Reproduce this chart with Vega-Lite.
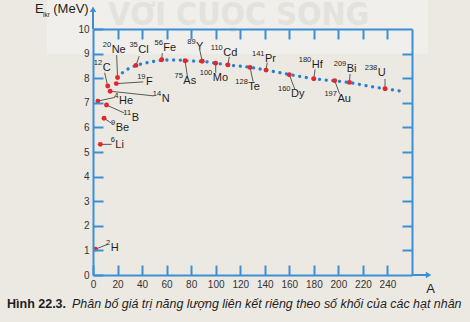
{
  "$schema": "https://vega.github.io/schema/vega-lite/v6.json",
  "width": 319,
  "height": 246,
  "autosize": {"type": "none"},
  "padding": {"left": 93, "top": 29, "right": 58, "bottom": 47},
  "background": "#ece9e3",
  "config": {
    "view": {"stroke": null},
    "font": "Liberation Sans",
    "axis": {
      "grid": false,
      "domainColor": "#3d8fd3",
      "domainWidth": 2,
      "tickColor": "#3d8fd3",
      "tickWidth": 2,
      "tickSize": -10,
      "labelPadding": 14,
      "labelFont": "Liberation Sans",
      "labelFontSize": 10,
      "labelColor": "#333333",
      "labelFlush": false
    }
  },
  "datasets": {
    "one": [{}],
    "nuclei": [
      {"sym": "H", "mass": "2", "A": 2, "E": 1.05, "tx": 14.4, "ty": 1.11, "lx": 12.0, "ly": 1.25},
      {"sym": "Li", "mass": "6", "A": 6, "E": 5.31, "tx": 18.2, "ty": 5.30, "lx": 15.2, "ly": 5.31},
      {"sym": "Be", "mass": "9", "A": 9, "E": 6.37, "tx": 18.5, "ty": 5.98, "lx": 16.1, "ly": 6.14},
      {"sym": "B", "mass": "11", "A": 11, "E": 6.91, "tx": 31.5, "ty": 6.39, "lx": 25.3, "ly": 6.59},
      {"sym": "He", "mass": "4", "A": 4, "E": 7.07, "tx": 21.2, "ty": 7.08, "lx": 17.9, "ly": 7.22},
      {"sym": "N", "mass": "14", "A": 14, "E": 7.47, "tx": 56.0, "ty": 7.15, "lx": 49.7, "ly": 7.28},
      {"sym": "C", "mass": "12", "A": 12, "E": 7.68, "tx": 7.9, "ty": 8.43, "lx": 9.5, "ly": 8.22},
      {"sym": "F", "mass": "19", "A": 19, "E": 7.78, "tx": 43.2, "ty": 7.83, "lx": 41.0, "ly": 7.85},
      {"sym": "Ne", "mass": "20", "A": 20, "E": 8.03, "tx": 15.2, "ty": 9.15, "lx": 19.3, "ly": 8.94},
      {"sym": "Cl", "mass": "35", "A": 35, "E": 8.52, "tx": 36.9, "ty": 9.13, "lx": 37.7, "ly": 8.90},
      {"sym": "Fe", "mass": "56", "A": 56, "E": 8.75, "tx": 57.3, "ty": 9.24, "lx": 56.5, "ly": 9.02},
      {"sym": "As", "mass": "75", "A": 75, "E": 8.71, "tx": 73.6, "ty": 7.87, "lx": 77.0, "ly": 8.06},
      {"sym": "Y", "mass": "89", "A": 89, "E": 8.69, "tx": 84.0, "ty": 9.28, "lx": 87.0, "ly": 9.15},
      {"sym": "Mo", "mass": "100", "A": 100, "E": 8.61, "tx": 97.6, "ty": 8.00, "lx": 100.0, "ly": 8.22},
      {"sym": "Cd", "mass": "110", "A": 110, "E": 8.54, "tx": 106.2, "ty": 9.04, "lx": 111.0, "ly": 8.87},
      {"sym": "Te", "mass": "128", "A": 128, "E": 8.44, "tx": 126.6, "ty": 7.66, "lx": 130.5, "ly": 7.86},
      {"sym": "Pr", "mass": "141", "A": 141, "E": 8.33, "tx": 140.2, "ty": 8.78, "lx": 142.0, "ly": 8.63},
      {"sym": "Dy", "mass": "160", "A": 160, "E": 8.14, "tx": 161.4, "ty": 7.36, "lx": 164.5, "ly": 7.55},
      {"sym": "Hf", "mass": "180", "A": 180, "E": 7.98, "tx": 178.3, "ty": 8.54, "lx": 181.0, "ly": 8.36},
      {"sym": "Au", "mass": "197", "A": 197, "E": 7.90, "tx": 199.2, "ty": 7.16, "lx": 201.0, "ly": 7.36},
      {"sym": "Bi", "mass": "209", "A": 209, "E": 7.83, "tx": 206.8, "ty": 8.37, "lx": 209.5, "ly": 8.17},
      {"sym": "U", "mass": "238", "A": 238, "E": 7.57, "tx": 232.1, "ty": 8.20, "lx": 238.0, "ly": 7.97}
    ],
    "curve": [
      {"A": 24, "E": 8.22}, {"A": 28, "E": 8.36}, {"A": 32, "E": 8.46}, {"A": 36, "E": 8.53},
      {"A": 44, "E": 8.63}, {"A": 52, "E": 8.70}, {"A": 58, "E": 8.74}, {"A": 68, "E": 8.74},
      {"A": 76, "E": 8.71}, {"A": 90, "E": 8.68}, {"A": 100, "E": 8.61}, {"A": 110, "E": 8.54},
      {"A": 128, "E": 8.44}, {"A": 141, "E": 8.33}, {"A": 160, "E": 8.15}, {"A": 180, "E": 7.98},
      {"A": 197, "E": 7.89}, {"A": 209, "E": 7.82}, {"A": 222, "E": 7.70}, {"A": 238, "E": 7.57},
      {"A": 252, "E": 7.47}
    ]
  },
  "resolve": {"axis": {"x": "independent", "y": "independent"}},
  "layer": [
    {
      "data": {"name": "one"},
      "mark": {"type": "rect", "color": "#f0efeb", "opacity": 1},
      "encoding": {
        "x": {"datum": -37.5, "scale": {"domain": [0, 260], "nice": false}, "axis": null},
        "x2": {"datum": 273},
        "y": {"datum": 11.3, "scale": {"domain": [0, 10], "nice": false}, "axis": null},
        "y2": {"datum": 8.98}
      }
    },
    {
      "data": {"name": "one"},
      "mark": {"type": "text", "text": "VỚI CUỘC SỐNG", "font": "DejaVu Sans Condensed", "fontWeight": "bold", "fontSize": 32, "color": "#e4e2dd", "align": "center", "baseline": "alphabetic"},
      "encoding": {
        "x": {"datum": 118.6, "axis": null},
        "y": {"datum": 10.16, "axis": null}
      }
    },
    {
      "data": {"name": "curve"},
      "mark": {"type": "line", "opacity": 0},
      "encoding": {
        "x": {"field": "A", "type": "quantitative", "scale": {"domain": [0, 260], "nice": false},
              "axis": {"orient": "top", "zindex": 1, "title": null, "labels": false, "values": [20, 40, 60, 80, 100, 120, 140, 160, 180, 200, 220, 240]}},
        "y": {"field": "E", "type": "quantitative", "scale": {"domain": [0, 10], "nice": false},
              "axis": {"orient": "right", "zindex": 1, "title": null, "labels": false, "values": [1, 2, 3, 4, 5, 6, 7, 8, 9]}}
      }
    },
    {
      "data": {"name": "curve"},
      "mark": {"type": "line", "color": "#2a7fd0", "strokeWidth": 3.3, "strokeCap": "round", "strokeDash": [0.1, 6.6], "interpolate": "monotone"},
      "encoding": {
        "x": {"field": "A", "type": "quantitative", "scale": {"domain": [0, 260], "nice": false},
              "axis": {"orient": "bottom", "title": "A", "titleX": 337, "titleY": 13, "titleAlign": "center", "titleBaseline": "middle", "titleAngle": 0, "titleFont": "Liberation Sans", "titleFontSize": 13, "titleFontWeight": "normal", "titleColor": "#1e1e1e", "values": [0, 20, 40, 60, 80, 100, 120, 140, 160, 180, 200, 220, 240]}},
        "y": {"field": "E", "type": "quantitative", "scale": {"domain": [0, 10], "nice": false},
              "axis": {"orient": "left", "zindex": 1, "title": null, "values": [0, 1, 2, 3, 4, 5, 6, 7, 8, 9, 10]}}
      }
    },
    {
      "data": {"name": "one"},
      "mark": {"type": "rule", "color": "#3d8fd3", "strokeWidth": 2},
      "encoding": {
        "x": {"datum": 0, "axis": null},
        "y": {"datum": 10, "axis": null},
        "y2": {"datum": 10.75}
      }
    },
    {
      "data": {"name": "one"},
      "mark": {"type": "point", "shape": "triangle-up", "filled": true, "color": "#3d8fd3", "size": 40, "opacity": 1},
      "encoding": {
        "x": {"datum": 0, "axis": null},
        "y": {"datum": 10.8, "axis": null}
      }
    },
    {
      "data": {"name": "one"},
      "mark": {"type": "rule", "color": "#3d8fd3", "strokeWidth": 2},
      "encoding": {
        "x": {"datum": 260, "axis": null},
        "x2": {"datum": 273},
        "y": {"datum": 0, "axis": null}
      }
    },
    {
      "data": {"name": "one"},
      "mark": {"type": "point", "shape": "triangle-right", "filled": true, "color": "#3d8fd3", "size": 40, "opacity": 1},
      "encoding": {
        "x": {"datum": 273.5, "axis": null},
        "y": {"datum": 0, "axis": null}
      }
    },
    {
      "data": {"name": "nuclei"},
      "transform": [{"filter": "datum.lx != null"}],
      "mark": {"type": "rule", "color": "#333333", "strokeWidth": 0.8},
      "encoding": {
        "x": {"field": "A", "type": "quantitative", "axis": null},
        "y": {"field": "E", "type": "quantitative", "axis": null},
        "x2": {"field": "lx"},
        "y2": {"field": "ly"}
      }
    },
    {
      "data": {"name": "nuclei"},
      "mark": {"type": "circle", "color": "#e3262b", "size": 24, "opacity": 1},
      "encoding": {
        "x": {"field": "A", "type": "quantitative", "axis": null},
        "y": {"field": "E", "type": "quantitative", "axis": null}
      }
    },
    {
      "data": {"name": "nuclei"},
      "mark": {"type": "text", "align": "left", "baseline": "middle", "fontSize": 11, "color": "#1e1e1e"},
      "encoding": {
        "x": {"field": "tx", "type": "quantitative", "axis": null},
        "y": {"field": "ty", "type": "quantitative", "axis": null},
        "text": {"field": "sym"}
      }
    },
    {
      "data": {"name": "nuclei"},
      "mark": {"type": "text", "align": "right", "baseline": "middle", "fontSize": 7.5, "dx": -0.5, "dy": -5, "color": "#1e1e1e"},
      "encoding": {
        "x": {"field": "tx", "type": "quantitative", "axis": null},
        "y": {"field": "ty", "type": "quantitative", "axis": null},
        "text": {"field": "mass"}
      }
    },
    {
      "data": {"name": "one"},
      "mark": {"type": "text", "text": "E", "align": "left", "baseline": "middle", "fontSize": 13, "color": "#1e1e1e"},
      "encoding": {"x": {"datum": -47.3, "axis": null}, "y": {"datum": 10.8, "axis": null}}
    },
    {
      "data": {"name": "one"},
      "mark": {"type": "text", "text": "lkr", "align": "left", "baseline": "middle", "fontSize": 6.5, "color": "#1e1e1e"},
      "encoding": {"x": {"datum": -40.8, "axis": null}, "y": {"datum": 10.58, "axis": null}}
    },
    {
      "data": {"name": "one"},
      "mark": {"type": "text", "text": "(MeV)", "align": "left", "baseline": "middle", "fontSize": 13, "color": "#1e1e1e"},
      "encoding": {"x": {"datum": -32.4, "axis": null}, "y": {"datum": 10.8, "axis": null}}
    },
    {
      "data": {"name": "one"},
      "mark": {"type": "text", "text": "Hình 22.3.", "align": "left", "baseline": "middle", "fontSize": 12.5, "fontWeight": "bold", "color": "#1e1e1e"},
      "encoding": {"x": {"datum": -70.1, "axis": null}, "y": {"datum": -1.18, "axis": null}}
    },
    {
      "data": {"name": "one"},
      "mark": {"type": "text", "text": "Phân bố giá trị năng lượng liên kết riêng theo số khối của các hạt nhân", "align": "left", "baseline": "middle", "fontSize": 12.45, "fontStyle": "italic", "color": "#1e1e1e"},
      "encoding": {"x": {"datum": -17.1, "axis": null}, "y": {"datum": -1.18, "axis": null}}
    }
  ]
}
